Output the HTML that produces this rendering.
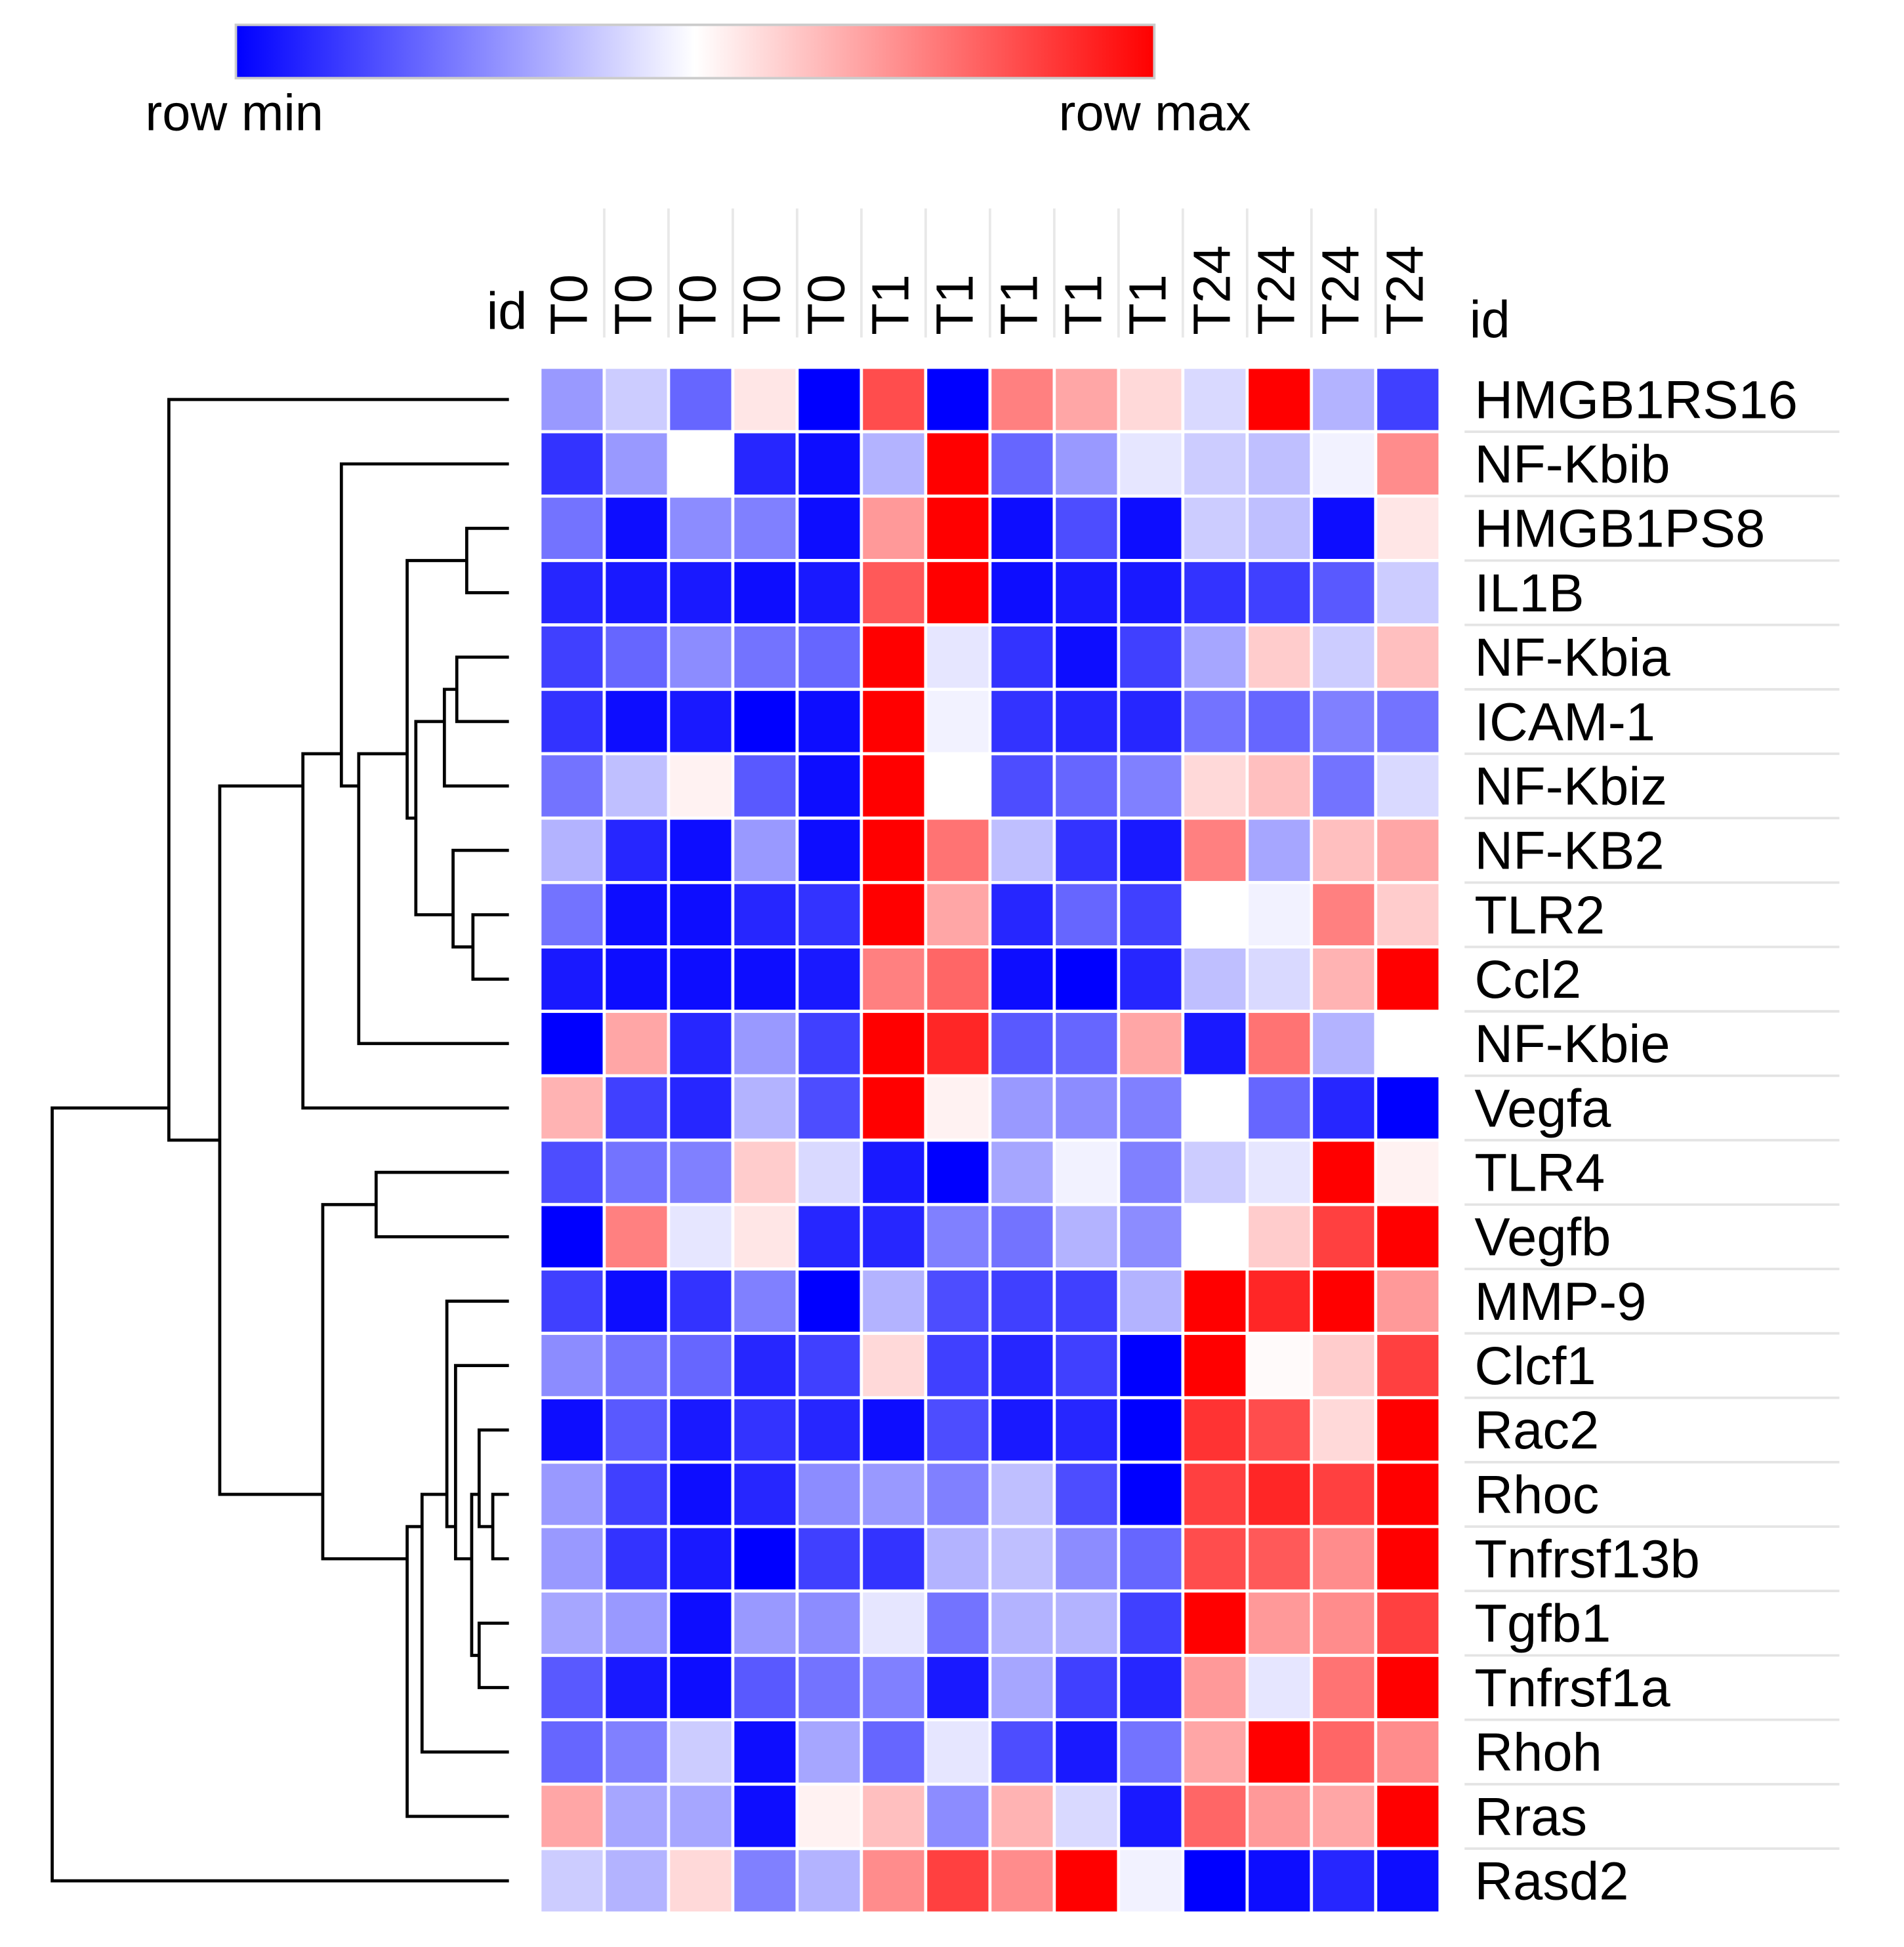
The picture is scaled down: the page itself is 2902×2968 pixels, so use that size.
<!DOCTYPE html>
<html><head><meta charset="utf-8"><style>
html,body{margin:0;padding:0;background:#fff;}
svg{display:block;}
text{font-family:"Liberation Sans",Arial,sans-serif;fill:#000;}
</style></head><body>
<svg id="chart" width="2902" height="2968" viewBox="0 0 1534 1569" xmlns="http://www.w3.org/2000/svg">
<defs><linearGradient id="cb" x1="0" x2="1" y1="0" y2="0"><stop offset="0" stop-color="#0000ff"/><stop offset="0.5" stop-color="#ffffff"/><stop offset="1" stop-color="#ff0000"/></linearGradient></defs>
<rect x="190" y="20" width="740" height="43" fill="url(#cb)" stroke="#ccc" stroke-width="2"/>
<text x="117" y="105" font-size="41">row min</text>
<text x="853" y="105" font-size="41">row max</text>
<text x="392" y="265" font-size="42">id</text>
<text x="1184" y="272" font-size="42">id</text>
<g id="cols"></g><g id="cells"></g><g id="rowlabels"></g><g id="dendro" fill="none" stroke="#000" stroke-width="2.5"></g>
</svg>
<script>
const columns=["T0","T0","T0","T0","T0","T1","T1","T1","T1","T1","T24","T24","T24","T24"];
const genes=["HMGB1RS16","NF-Kbib","HMGB1PS8","IL1B","NF-Kbia","ICAM-1","NF-Kbiz","NF-KB2","TLR2","Ccl2","NF-Kbie","Vegfa","TLR4","Vegfb","MMP-9","Clcf1","Rac2","Rhoc","Tnfrsf13b","Tgfb1","Tnfrsf1a","Rhoh","Rras","Rasd2"];
const values=[
[-0.4,-0.2,-0.6,0.1,-1,0.7,-1,0.5,0.35,0.15,-0.15,1,-0.3,-0.75],
[-0.8,-0.4,0,-0.85,-0.95,-0.3,1,-0.6,-0.4,-0.1,-0.2,-0.25,-0.05,0.45],
[-0.55,-0.95,-0.45,-0.5,-0.95,0.4,1,-0.95,-0.7,-0.95,-0.2,-0.25,-0.95,0.1],
[-0.85,-0.9,-0.9,-0.95,-0.9,0.65,1,-0.95,-0.9,-0.9,-0.8,-0.75,-0.65,-0.2],
[-0.75,-0.6,-0.45,-0.55,-0.6,1,-0.1,-0.8,-0.95,-0.75,-0.35,0.2,-0.2,0.25],
[-0.8,-0.95,-0.9,-1,-0.95,1,-0.05,-0.8,-0.85,-0.85,-0.55,-0.6,-0.5,-0.55],
[-0.55,-0.25,0.05,-0.65,-0.95,1,0,-0.7,-0.6,-0.5,0.15,0.25,-0.55,-0.15],
[-0.3,-0.85,-0.95,-0.4,-0.95,1,0.55,-0.25,-0.8,-0.9,0.5,-0.35,0.25,0.35],
[-0.55,-0.95,-0.95,-0.85,-0.8,1,0.35,-0.85,-0.6,-0.75,0,-0.05,0.5,0.2],
[-0.9,-0.95,-0.95,-0.95,-0.9,0.5,0.6,-0.95,-1,-0.85,-0.25,-0.15,0.3,1],
[-1,0.35,-0.85,-0.4,-0.75,1,0.85,-0.65,-0.6,0.35,-0.9,0.55,-0.3,0],
[0.3,-0.75,-0.85,-0.3,-0.7,1,0.05,-0.4,-0.45,-0.5,0,-0.6,-0.85,-1],
[-0.7,-0.55,-0.5,0.2,-0.15,-0.9,-1,-0.35,-0.05,-0.5,-0.2,-0.1,1,0.05],
[-1,0.5,-0.1,0.1,-0.85,-0.85,-0.5,-0.55,-0.3,-0.45,0,0.2,0.75,1],
[-0.75,-0.95,-0.8,-0.5,-1,-0.3,-0.7,-0.75,-0.75,-0.3,1,0.85,1,0.4],
[-0.45,-0.55,-0.6,-0.85,-0.75,0.15,-0.75,-0.85,-0.75,-1,1,0.02,0.2,0.75],
[-0.95,-0.65,-0.9,-0.8,-0.85,-0.95,-0.7,-0.9,-0.85,-1,0.8,0.7,0.15,1],
[-0.4,-0.75,-0.95,-0.85,-0.45,-0.4,-0.5,-0.25,-0.7,-1,0.75,0.85,0.75,1],
[-0.4,-0.8,-0.9,-1,-0.75,-0.8,-0.3,-0.25,-0.45,-0.6,0.7,0.65,0.45,1],
[-0.35,-0.4,-0.95,-0.4,-0.45,-0.1,-0.55,-0.3,-0.3,-0.75,1,0.4,0.45,0.75],
[-0.65,-0.9,-0.95,-0.65,-0.55,-0.5,-0.9,-0.35,-0.75,-0.85,0.4,-0.1,0.55,1],
[-0.6,-0.5,-0.2,-0.95,-0.35,-0.6,-0.1,-0.7,-0.9,-0.55,0.35,1,0.6,0.45],
[0.35,-0.35,-0.35,-0.95,0.05,0.25,-0.45,0.3,-0.15,-0.9,0.6,0.4,0.35,1],
[-0.2,-0.3,0.15,-0.5,-0.3,0.45,0.75,0.45,1,-0.05,-1,-0.95,-0.85,-0.95]];
// dendrogram merges: [childA, childB, height]
const merges=[
[4,5,368],["n0",6,358],[8,9,381],[7,"n2",365],["n1","n3",335],[2,3,376],["n5","n4",328],["n6",10,289],[1,"n7",275],["n8",11,244],
[12,13,303],[17,18,397],[16,"n11",386],[19,20,386],["n12","n13",380],[15,"n14",367],[14,"n15",360],["n16",21,340],["n17",22,328],["n10","n18",260],
["n9","n19",177],[0,"n20",136],["n21",23,42]];
const X0=435,CW=51.8,Y0=296,RH=51.9,LEAFX=410;
const ns="http://www.w3.org/2000/svg";
const colX=i=>X0+i*CW, rowY=i=>Y0+i*RH;
function color(v){if(v<0){const c=Math.round(255*(1+v));return `rgb(${c},${c},255)`;}const c=Math.round(255*(1-v));return `rgb(255,${c},${c})`;}
const cols=document.getElementById('cols'),cells=document.getElementById('cells'),rl=document.getElementById('rowlabels'),dg=document.getElementById('dendro');
columns.forEach((c,i)=>{
 if(i>0){const ln=document.createElementNS(ns,'line');ln.setAttribute('x1',colX(i));ln.setAttribute('x2',colX(i));ln.setAttribute('y1',168);ln.setAttribute('y2',272);ln.setAttribute('stroke','#e8e8e8');ln.setAttribute('stroke-width','2');
 
 
 cols.appendChild(ln);}
 const t=document.createElementNS(ns,'text');const cx=colX(i)+CW/2+12;t.setAttribute('x',cx);t.setAttribute('y',270);t.setAttribute('font-size','42');t.setAttribute('transform',`rotate(-90 ${cx} 270)`);t.textContent=c;
 
 
 cols.appendChild(t);
});
genes.forEach((g,r)=>{
 values[r].forEach((v,c)=>{const e=document.createElementNS(ns,'rect');e.setAttribute('x',colX(c));e.setAttribute('y',rowY(r));e.setAttribute('width',CW);e.setAttribute('height',RH);e.setAttribute('fill',color(v));e.setAttribute('stroke','#fff');e.setAttribute('stroke-width','2.5');
 
 
 cells.appendChild(e);});
 const t=document.createElementNS(ns,'text');t.setAttribute('x',1188);t.setAttribute('y',rowY(r)+RH/2+15);t.setAttribute('font-size','43');t.textContent=g;
 
 
 rl.appendChild(t);
 if(r>0){const ln=document.createElementNS(ns,'line');ln.setAttribute('x1',1180);ln.setAttribute('x2',1482);ln.setAttribute('y1',rowY(r));ln.setAttribute('y2',rowY(r));ln.setAttribute('stroke','#e4e4e4');ln.setAttribute('stroke-width','2');
 
 
 rl.appendChild(ln);}
});
const nodes={};
function pos(k){if(typeof k==='number'){const y=rowY(k)+RH/2;return{x:LEAFX,y:y,s:y,n:1};}return nodes[k];}
merges.forEach((m,i)=>{const a=pos(m[0]),b=pos(m[1]),h=m[2];
 const p=document.createElementNS(ns,'path');p.setAttribute('d',`M${a.x},${a.y}H${h}V${b.y}H${b.x}`);
 
 
 dg.appendChild(p);
 const s=a.s+b.s,n=a.n+b.n;
 nodes['n'+i]={x:h,y:s/n,s:s,n:n};});
</script>
</body></html>
